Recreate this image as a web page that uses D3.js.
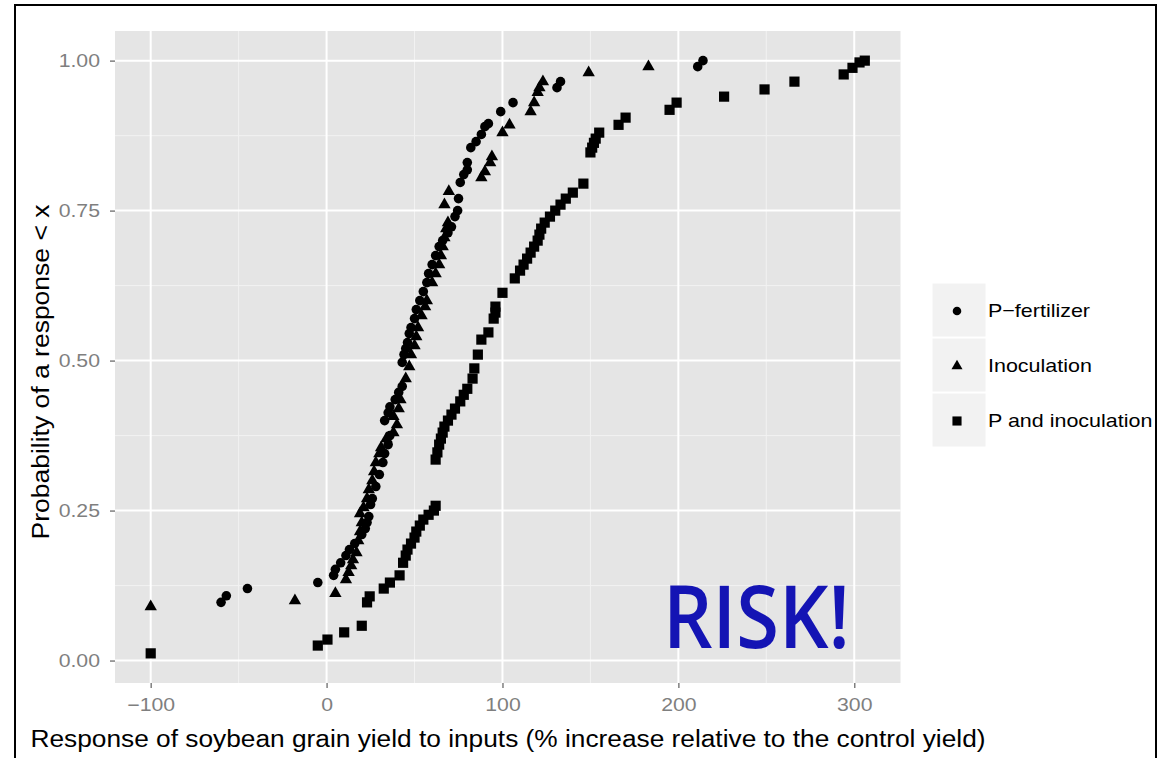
<!DOCTYPE html>
<html>
<head>
<meta charset="utf-8">
<script src="https://cdn.jsdelivr.net/npm/d3@7.9.0/dist/d3.min.js"></script>
<style>
  body { margin: 0; background: #fff; }
  svg { display: block; font-family: "Liberation Sans", Arial, sans-serif; }
</style>
</head>
<body>
<div id="chart"></div>
<script>
// ECDF points: [response %, probability]
const pFertilizer = [
  [-60,0.097],[-57,0.108],[-45,0.12],[-5,0.13],[4,0.142],[5,0.152],[8,0.163],[11,0.175],
  [13,0.185],[16,0.195],[20,0.21],[22,0.22],[23,0.23],[24,0.24],[25,0.26],[26,0.27],
  [28,0.29],[30,0.31],[32,0.33],[33,0.345],[35,0.36],[36,0.375],[33,0.40],[35,0.413],
  [36,0.423],[39,0.435],[41,0.447],[43,0.457],[43,0.497],[44,0.51],[45,0.52],[46,0.53],
  [47,0.545],[48,0.555],[50,0.57],[51,0.585],[53,0.6],[55,0.615],[57,0.63],[58,0.645],
  [60,0.66],[62,0.675],[64,0.69],[66,0.70],[69,0.713],[71,0.723],[73,0.74],[74.5,0.75],
  [75,0.77],[76,0.797],[78,0.81],[80,0.818],[80,0.83],[82,0.855],[85,0.865],[88,0.877],
  [90,0.89],[92,0.895],[99,0.915],[106,0.93],[131,0.955],[133,0.965],[211,0.99],[214,1.0]
];

const inoculation = [
  [-100,0.09],[-18,0.10],[5,0.112],[11,0.135],[12.5,0.147],[14,0.158],[15,0.168],[17,0.18],
  [18,0.20],[19,0.215],[20,0.23],[19,0.245],[21,0.255],[23,0.27],[24,0.285],[26,0.30],
  [27,0.315],[28,0.33],[30,0.345],[31,0.355],[34,0.37],[38,0.38],[40,0.393],[38,0.407],
  [41,0.42],[42,0.435],[45,0.47],[47,0.49],[48,0.51],[50,0.525],[51,0.54],[52,0.555],
  [54,0.575],[56,0.59],[57,0.6],[60,0.63],[62,0.645],[64,0.66],[65,0.675],[66,0.69],
  [67,0.705],[68,0.72],[69,0.73],[67,0.76],[69.5,0.782],[88,0.805],[90,0.815],[93,0.83],
  [94,0.84],[100,0.88],[104,0.893],[116,0.915],[118,0.93],[120,0.947],[121,0.955],
  [123,0.965],[149,0.98],[183,0.99]
];

const pAndInoculation = [
  [-100,0.012],[-5,0.025],[0.5,0.035],[10,0.047],[20,0.058],[23,0.097],[24.5,0.107],
  [32.5,0.12],[36,0.13],[41.5,0.142],[43.5,0.163],[45,0.175],[46,0.185],[48,0.195],
  [50,0.205],[51,0.215],[53,0.225],[55,0.235],[58,0.243],[61,0.25],[62,0.258],
  [62,0.335],[63,0.347],[64,0.36],[65,0.37],[66,0.38],[67,0.39],[69,0.4],[71,0.41],
  [73,0.42],[76,0.432],[78,0.443],[80,0.453],[83,0.47],[84,0.487],[86,0.51],[88,0.535],
  [92,0.547],[95,0.57],[96,0.58],[96,0.59],[100,0.613],[107,0.637],[110,0.65],[112,0.66],
  [114,0.67],[116,0.68],[118,0.69],[120,0.70],[121,0.71],[122,0.72],[124,0.73],[127,0.74],
  [130,0.75],[133,0.76],[136,0.77],[140,0.78],[146,0.795],[150,0.847],[151,0.855],
  [152,0.863],[153,0.87],[155,0.88],[166,0.893],[170,0.905],[195,0.918],[199,0.93],
  [226,0.94],[249,0.952],[266,0.965],[294,0.977],[299,0.988],[303,0.997],[306,1.0]
];

const seriesNames = ["P\u2212fertilizer", "Inoculation", "P and inoculation"];
const xTicks = [-100, 0, 100, 200, 300];
const xMinor = [-50, 50, 150, 250];
const yTicks = [0, 0.25, 0.5, 0.75, 1];
const yTickLabels = ["0.00", "0.25", "0.50", "0.75", "1.00"];
const yMinor = [0.125, 0.375, 0.625, 0.875];

const series = [
  { name: seriesNames[0], values: pFertilizer, shape: d3.symbolCircle, size: 72 },
  { name: seriesNames[1], values: inoculation, shape: d3.symbolTriangle, size: 66 },
  { name: seriesNames[2], values: pAndInoculation, shape: d3.symbolSquare, size: 104 }
];

const W = 1159, H = 758;
const panel = { left: 115, right: 900.5, top: 31, bottom: 683 };
const stretch = 1.18; // the picture's text is a little wide

// ggplot-style 5% expansion of the data range
const allPts = series.flatMap(s => s.values);
const xExt = d3.extent(allPts, d => d[0]);
const yExt = d3.extent(allPts, d => d[1]);
const xPad = (xExt[1] - xExt[0]) * 0.05;
const yPad = (yExt[1] - yExt[0]) * 0.05;

const x = d3.scaleLinear()
  .domain([xExt[0] - xPad, xExt[1] + xPad])
  .range([panel.left, panel.right]);

const y = d3.scaleLinear()
  .domain([yExt[0] - yPad, yExt[1] + yPad])
  .range([panel.bottom, panel.top]);

const svg = d3.select("#chart")
  .append("svg")
    .attr("width", W)
    .attr("height", H);

svg.append("rect")
  .attr("width", W).attr("height", H)
  .attr("fill", "#fff");

function widen(sel, k) {
  sel.each(function() {
    const len = this.getComputedTextLength();
    d3.select(this)
      .attr("textLength", len * k)
      .attr("lengthAdjust", "spacingAndGlyphs");
  });
}

// panel background
svg.append("rect")
  .attr("x", panel.left)
  .attr("y", panel.top)
  .attr("width", panel.right - panel.left)
  .attr("height", panel.bottom - panel.top)
  .attr("fill", "#e5e5e5");

// minor grid
const grid = svg.append("g");
grid.selectAll(".xminor")
  .data(xMinor)
  .join("line")
    .attr("x1", d => x(d)).attr("x2", d => x(d))
    .attr("y1", panel.top).attr("y2", panel.bottom)
    .attr("stroke", "#f2f2f2").attr("stroke-width", 1);
grid.selectAll(".yminor")
  .data(yMinor)
  .join("line")
    .attr("y1", d => y(d)).attr("y2", d => y(d))
    .attr("x1", panel.left).attr("x2", panel.right)
    .attr("stroke", "#f2f2f2").attr("stroke-width", 1);

// major grid
grid.selectAll(".xmajor")
  .data(xTicks)
  .join("line")
    .attr("x1", d => x(d)).attr("x2", d => x(d))
    .attr("y1", panel.top).attr("y2", panel.bottom)
    .attr("stroke", "#fff").attr("stroke-width", 2);
grid.selectAll(".ymajor")
  .data(yTicks)
  .join("line")
    .attr("y1", d => y(d)).attr("y2", d => y(d))
    .attr("x1", panel.left).attr("x2", panel.right)
    .attr("stroke", "#fff").attr("stroke-width", 2);

// axes
const xAxis = svg.append("g")
  .attr("transform", `translate(0,${panel.bottom})`)
  .call(d3.axisBottom(x).tickValues(xTicks).tickFormat(d => d < 0 ? "\u2212" + Math.abs(d) : d)
    .tickSize(5).tickPadding(9));

const yAxis = svg.append("g")
  .attr("transform", `translate(${panel.left},0)`)
  .call(d3.axisLeft(y).tickValues(yTicks).tickFormat((d, i) => yTickLabels[i])
    .tickSize(5).tickPadding(10));

[xAxis, yAxis].forEach(a => {
  a.select(".domain").remove();
  a.selectAll(".tick line").attr("stroke", "#7f7f7f").attr("stroke-width", 1.5);
  a.selectAll(".tick text")
    .attr("fill", "#7f7f7f")
    .style("font-size", "18px")
    .style("font-family", "'Liberation Sans', Arial, sans-serif");
  widen(a.selectAll(".tick text"), stretch);
});
xAxis.selectAll(".tick text").attr("dy", "0.8em");

// points
series.forEach(s => {
  svg.append("g")
    .selectAll("path")
    .data(s.values)
    .join("path")
      .attr("transform", d => `translate(${x(d[0])},${y(d[1])})`)
      .attr("d", d3.symbol().type(s.shape).size(s.size))
      .attr("fill", "#000");
});

// axis titles
svg.append("text")
  .attr("x", 508)
  .attr("y", 747)
  .attr("text-anchor", "middle")
  .attr("textLength", 955)
  .attr("lengthAdjust", "spacingAndGlyphs")
  .style("font-size", "23px")
  .attr("fill", "#000")
  .text("Response of soybean grain yield to inputs (% increase relative to the control yield)");

svg.append("text")
  .attr("transform", "translate(49,372) rotate(-90)")
  .attr("text-anchor", "middle")
  .attr("textLength", 335)
  .attr("lengthAdjust", "spacingAndGlyphs")
  .style("font-size", "23px")
  .attr("fill", "#000")
  .text("Probability of a response < x");

// legend
const legend = svg.append("g").attr("transform", "translate(932,283)");
const keySize = 54;
series.forEach((s, i) => {
  const g = legend.append("g").attr("transform", `translate(0,${i * 55})`);
  g.append("rect")
    .attr("width", keySize).attr("height", keySize)
    .attr("fill", "#f2f2f2")
    .attr("stroke", "#fff").attr("stroke-width", 1);
  g.append("path")
    .attr("transform", `translate(${keySize / 2 - 2},${keySize / 2 + 1})`)
    .attr("d", d3.symbol().type(s.shape).size(s.size * 0.8))
    .attr("fill", "#000");
  const t = g.append("text")
    .attr("x", 56)
    .attr("y", keySize / 2 + 7)
    .style("font-size", "19px")
    .attr("fill", "#000")
    .text(s.name);
  widen(t, 1.13);
});

// annotation
svg.append("text")
  .attr("x", 663)
  .attr("y", 648)
  .attr("textLength", 187)
  .attr("lengthAdjust", "spacingAndGlyphs")
  .style("font-family", "'Open Sans', sans-serif")
  .style("font-weight", "600")
  .style("font-size", "87px")
  .attr("fill", "#1414b4")
  .text("RISK!");

// outer frame, clipping anything past the right edge
svg.append("rect")
  .attr("x", 1157).attr("y", 0)
  .attr("width", 2).attr("height", H)
  .attr("fill", "#fff");
svg.append("rect")
  .attr("x", 15).attr("y", 5)
  .attr("width", 1141).attr("height", 800)
  .attr("fill", "none")
  .attr("stroke", "#000")
  .attr("stroke-width", 2);
</script>
</body>
</html>
